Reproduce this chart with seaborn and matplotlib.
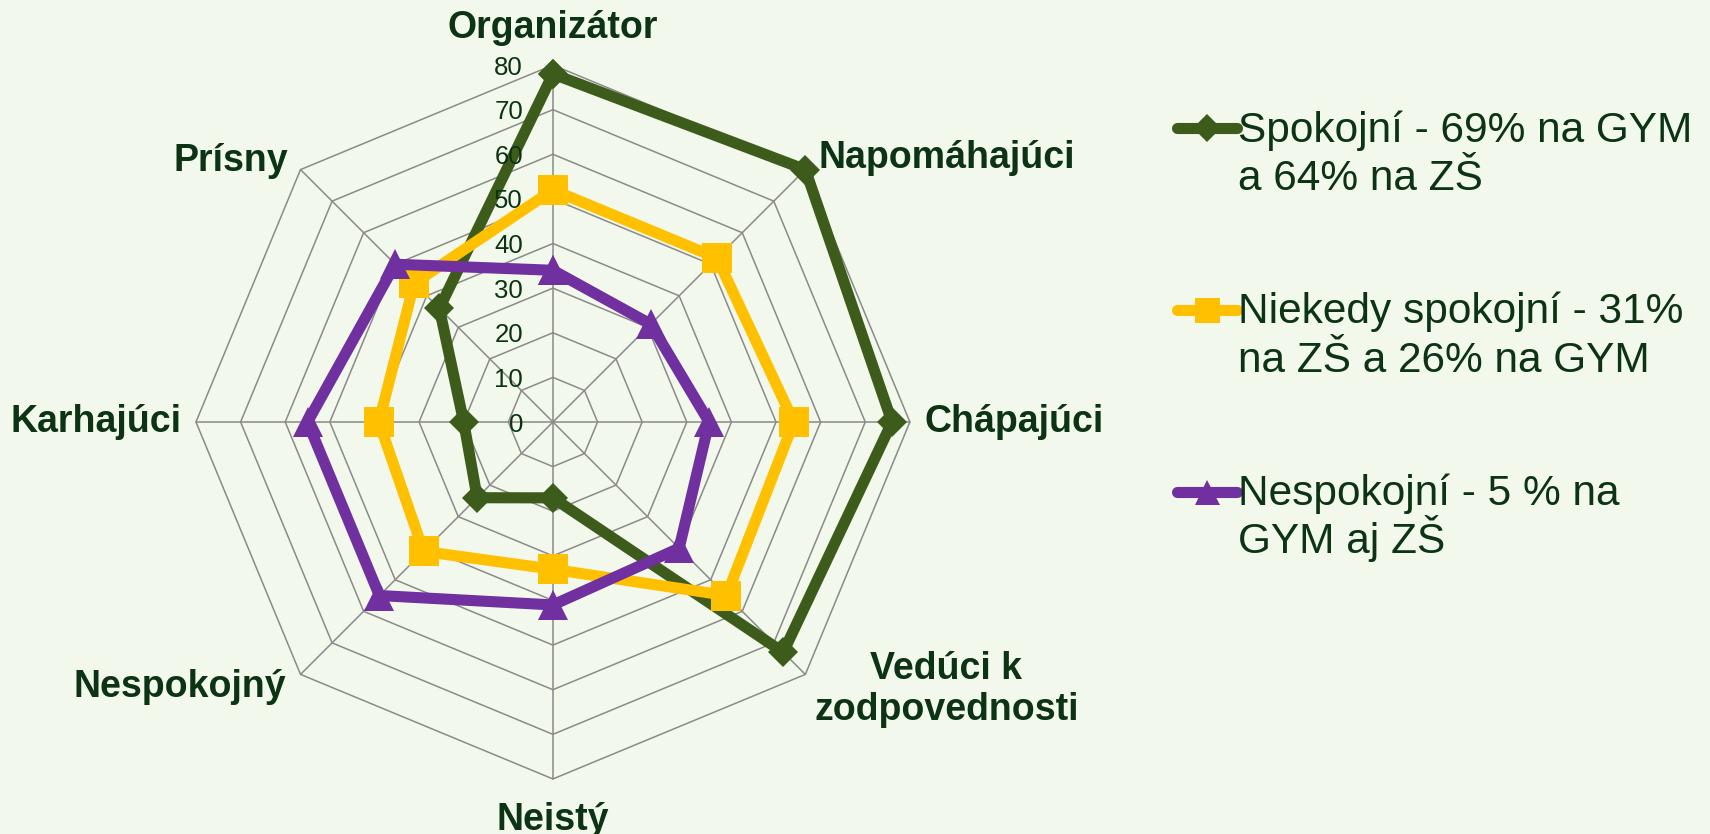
import numpy as np
import pandas as pd
import matplotlib.pyplot as plt
from matplotlib.lines import Line2D
import seaborn as sns

# categories going clockwise from the top
categories = ["Organizátor", "Napomáhajúci", "Chápajúci", "Vedúci k\nzodpovednosti",
              "Neistý", "Nespokojný", "Karhajúci", "Prísny"]
spokojni = [78, 80, 76, 73, 17, 24, 20, 36]
niekedy = [52, 52, 54, 55, 33, 41, 39, 44]
nespokojni = [34, 31, 35, 40, 41, 55, 55, 50]
levels = [0, 10, 20, 30, 40, 50, 60, 70, 80]
tick_labels = ["0", "10", "20", "30", "40", "50", "60", "70", "80"]
series_names = ["Spokojní - 69% na GYM\na 64% na ZŠ",
                "Niekedy spokojní - 31%\nna ZŠ a 26% na GYM",
                "Nespokojní - 5 % na\nGYM aj ZŠ"]

colors = ["#3D5C1B", "#FFC000", "#7030A0"]
markers = ["D", "s", "^"]
msizes = [15, 22, 22]
bg = "#F2F8EB"
txt = "#0B3314"
grid_col = "#8A8A8A"

sns.set_style("white")
plt.rcParams["font.family"] = ["Liberation Sans", "DejaVu Sans"]

n = len(categories)
theta = np.linspace(0, 2 * np.pi, n, endpoint=False)
theta_closed = np.append(theta, theta[0] + 2 * np.pi)

df = pd.DataFrame({"Spokojní": spokojni, "Niekedy": niekedy, "Nespokojní": nespokojni},
                  index=categories)

fig = plt.figure(figsize=(17.1, 8.34), dpi=100, facecolor=bg)
ax = fig.add_axes([0.1146, 0.066, 0.4175, 0.856], projection="polar")
ax.set_facecolor(bg)
ax.set_theta_offset(np.pi / 2)
ax.set_theta_direction(-1)
ax.grid(False)
ax.set_xticks([])
ax.set_yticks([])
ax.spines["polar"].set_visible(False)

# octagon grid
for lv in levels[1:]:
    ax.plot(theta_closed, [lv] * (n + 1), color=grid_col, lw=1.1, zorder=1, clip_on=False)
for t in theta:
    ax.plot([t, t], [0, levels[-1]], color=grid_col, lw=1.1, zorder=1, clip_on=False)

# series (later series drawn on top like in Excel)
for i, col in enumerate(df.columns):
    vals = list(df[col]) + [df[col].iloc[0]]
    sns.lineplot(x=theta_closed, y=vals, ax=ax, color=colors[i], lw=8, marker=markers[i],
                 markersize=msizes[i], markeredgewidth=0, sort=False, estimator=None,
                 zorder=3 + i, clip_on=False, legend=False)
ax.set_xlabel("")
ax.set_ylabel("")
ax.set_ylim(0, 80)

# radial tick labels
for lv, lab in zip(levels, tick_labels):
    ax.annotate(lab, xy=(0, lv), xytext=(-30, -2.5), textcoords="offset pixels",
                ha="right", va="center", fontsize=18.5, color=txt)

# category labels
offsets = [(0, 19), (13, 12), (15, 0), (141, -15), (0, -23), (-14, -13), (-14, 0), (-12, 9)]
aligns = [("center", "bottom"), ("left", "center"), ("left", "center"), ("center", "center"),
          ("center", "top"), ("right", "center"), ("right", "center"), ("right", "center")]
for t, lab, off, (ha, va) in zip(theta, categories, offsets, aligns):
    ax.annotate(lab, xy=(t, 80), xytext=off, textcoords="offset pixels", ha=ha, va=va,
                fontsize=27, fontweight="bold", color=txt, multialignment="center")

# legend drawn by hand so the key sits on the first text line
leg_line_y = [0.8462, 0.6283, 0.4104]
leg_base_y = [(0.8301, 0.7722), (0.6122, 0.5540), (0.3945, 0.3366)]
leg_ms = [14, 18, 18]
for i, name in enumerate(series_names):
    y = leg_line_y[i]
    fig.add_artist(Line2D([0.6881, 0.7057, 0.7232], [y, y, y], transform=fig.transFigure,
                          color=colors[i], lw=8, marker=markers[i], markersize=leg_ms[i],
                          markeredgewidth=0, markevery=[1], solid_capstyle="round"))
    for line, yb in zip(name.split("\n"), leg_base_y[i]):
        fig.text(0.7240, yb, line, ha="left", va="baseline", fontsize=30.5, color=txt)

plt.savefig("out.png", dpi=100, facecolor=bg)
